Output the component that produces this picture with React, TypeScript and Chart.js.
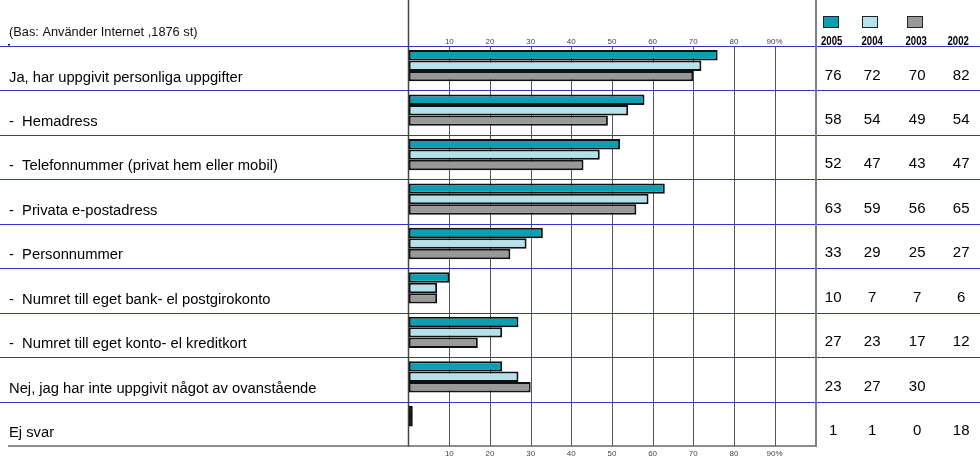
import React, { useEffect, useRef } from 'react';
import { Chart, registerables } from 'chart.js';

Chart.register(...registerables);

const baseNote = '(Bas: Använder Internet ,1876 st)';

const categories = [
  'Ja, har uppgivit personliga uppgifter',
  '-  Hemadress',
  '-  Telefonnummer (privat hem eller mobil)',
  '-  Privata e-postadress',
  '-  Personnummer',
  '-  Numret till eget bank- el postgirokonto',
  '-  Numret till eget konto- el kreditkort',
  'Nej, jag har inte uppgivit något av ovanstående',
  'Ej svar',
];

const years = ['2005', '2004', '2003', '2002'];

const values2005 = [76, 58, 52, 63, 33, 10, 27, 23, 1];
const values2004 = [72, 54, 47, 59, 29, 7, 23, 27, 1];
const values2003 = [70, 49, 43, 56, 25, 7, 17, 30, 0];
const values2002: (number | null)[] = [82, 54, 47, 65, 27, 6, 12, null, 18];

const xTickValues = [10, 20, 30, 40, 50, 60, 70, 80, 90];
const xTickLabels = ['10', '20', '30', '40', '50', '60', '70', '80', '90%'];

const barColors = ['#0a9fb5', '#b4e2ea', '#999999'];

const FONT = '"Liberation Sans", Arial, sans-serif';
const SHIFT = 2.5;

const tablePlugin = {
  id: 'tablePlugin',
  beforeDatasetsDraw(chart: any) {
    const ctx = chart.ctx as CanvasRenderingContext2D;
    const xs = chart.scales.x;
    const ys = chart.scales.y;
    const h = ys.getPixelForValue(1) - ys.getPixelForValue(0);
    const n = categories.length;
    const top0 = ys.getPixelForValue(0) - h / 2 + SHIFT;
    const bottom = ys.getPixelForValue(n - 1) + h / 2 + SHIFT;
    const x0 = xs.getPixelForValue(0);
    const x100 = xs.getPixelForValue(100);
    const line = (a: number, b: number, c: number, d: number) => {
      ctx.beginPath();
      ctx.moveTo(a, b);
      ctx.lineTo(c, d);
      ctx.stroke();
    };
    ctx.save();
    ctx.strokeStyle = '#555555';
    ctx.lineWidth = 1;
    for (const v of xTickValues) {
      const px = Math.round(xs.getPixelForValue(v)) + 0.5;
      line(px, top0, px, bottom);
    }
    ctx.strokeStyle = '#3434cc';
    ctx.lineWidth = 1.2;
    for (let i = 0; i < n; i++) {
      const yy = Math.round(ys.getPixelForValue(i) - h / 2 + SHIFT) + 0.5;
      line(0, yy, chart.width, yy);
    }
    ctx.strokeStyle = '#444444';
    ctx.lineWidth = 1.5;
    const lx = Math.round(x0) - 0.5;
    line(lx, 0, lx, bottom + 1);
    ctx.strokeStyle = '#666666';
    ctx.lineWidth = 1.5;
    line(8, Math.round(bottom), x100 + 1, Math.round(bottom));
    ctx.strokeStyle = '#808080';
    ctx.lineWidth = 2;
    line(Math.round(x100) + 1, 0, Math.round(x100) + 1, bottom + 1);
    ctx.restore();
  },
  afterDraw(chart: any) {
    const ctx = chart.ctx as CanvasRenderingContext2D;
    const xs = chart.scales.x;
    const ys = chart.scales.y;
    const h = ys.getPixelForValue(1) - ys.getPixelForValue(0);
    const n = categories.length;
    const top0 = ys.getPixelForValue(0) - h / 2 + SHIFT;
    const bottom = ys.getPixelForValue(n - 1) + h / 2 + SHIFT;
    const x100 = xs.getPixelForValue(100);
    ctx.save();
    ctx.fillStyle = '#111111';
    ctx.font = `12.8px ${FONT}`;
    ctx.textAlign = 'left';
    ctx.textBaseline = 'alphabetic';
    ctx.fillText(baseNote, 9, top0 - 10);
    ctx.fillRect(8, top0 - 2, 2, 1.5);
    ctx.fillStyle = '#444444';
    ctx.font = `8px ${FONT}`;
    ctx.textAlign = 'center';
    xTickValues.forEach((v, i) => {
      const px = xs.getPixelForValue(v);
      ctx.fillText(xTickLabels[i], px, top0 - 2);
      ctx.fillText(xTickLabels[i], px, bottom + 9.5);
    });
    ctx.fillStyle = '#000000';
    ctx.font = `14.75px ${FONT}`;
    ctx.textAlign = 'left';
    categories.forEach((c, i) => {
      const rowTop = ys.getPixelForValue(i) - h / 2 + SHIFT;
      ctx.fillText(c, 9, rowTop + 35.5);
    });
    const colCenters = [x100 + 18, x100 + 57, x100 + 102, x100 + 146];
    const yearCenters = [x100 + 16.5, x100 + 57, x100 + 101, x100 + 143];
    for (let k = 0; k < 3; k++) {
      const sx = Math.round(colCenters[k] - 10) + 0.5;
      ctx.fillStyle = barColors[k];
      ctx.fillRect(sx, 16.5, 15, 11);
      ctx.strokeStyle = '#222222';
      ctx.lineWidth = 1;
      ctx.strokeRect(sx, 16.5, 15, 11);
    }
    ctx.fillStyle = '#000000';
    ctx.font = `bold 12px ${FONT}`;
    ctx.textAlign = 'center';
    years.forEach((yr, k) => {
      ctx.save();
      ctx.translate(yearCenters[k], top0 - 1.5);
      ctx.scale(0.8, 1);
      ctx.fillText(yr, 0, 0);
      ctx.restore();
    });
    ctx.font = `15px ${FONT}`;
    const series = [values2005, values2004, values2003, values2002];
    categories.forEach((_, i) => {
      const rowTop = ys.getPixelForValue(i) - h / 2 + SHIFT;
      series.forEach((s, k) => {
        const v = s[i];
        if (v === null || v === undefined) return;
        ctx.fillText(String(v), colCenters[k], rowTop + 33.5);
      });
    });
    ctx.restore();
  },
};

export default function App() {
  const canvasRef = useRef<HTMLCanvasElement | null>(null);

  useEffect(() => {
    const canvas = canvasRef.current;
    if (!canvas) return;
    const chart = new Chart(canvas, {
      type: 'bar',
      data: {
        labels: categories,
        datasets: [
          { label: years[0], data: values2005, backgroundColor: barColors[0] },
          { label: years[1], data: values2004, backgroundColor: barColors[1] },
          { label: years[2], data: values2003, backgroundColor: barColors[2] },
        ].map((d) => ({
          ...d,
          borderColor: '#111111',
          borderWidth: 2,
          borderSkipped: false,
          categoryPercentage: 0.704,
          barPercentage: 1,
        })),
      },
      options: {
        indexAxis: 'y',
        responsive: false,
        animation: false,
        devicePixelRatio: 1,
        layout: {
          padding: { left: 408.7, right: 164.8, top: 46 - SHIFT, bottom: 18 + SHIFT },
        },
        plugins: {
          legend: { display: false },
          tooltip: { enabled: false },
        },
        scales: {
          x: { display: false, min: 0, max: 100 },
          y: { display: false },
        },
      },
      plugins: [tablePlugin],
    } as any);
    return () => chart.destroy();
  }, []);

  return (
    <div style={{ position: 'fixed', left: 0, top: 0, width: 980, height: 464, background: '#ffffff' }}>
      <canvas ref={canvasRef} width={980} height={464} style={{ width: 980, height: 464, display: 'block' }} />
    </div>
  );
}
